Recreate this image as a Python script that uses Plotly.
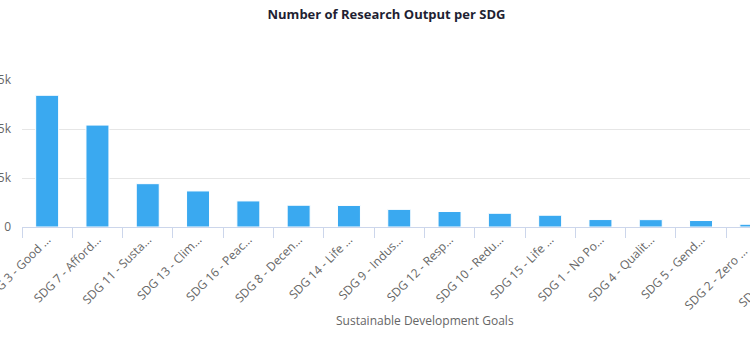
import plotly.graph_objects as go

# ---- data ----
categories = [
    "SDG 3 - Good …", "SDG 7 - Afford…", "SDG 11 - Susta…", "SDG 13 - Clim…",
    "SDG 16 - Peac…", "SDG 8 - Decen…", "SDG 14 - Life …", "SDG 9 - Indus…",
    "SDG 12 - Resp…", "SDG 10 - Redu…", "SDG 15 - Life …", "SDG 1 - No Po…",
    "SDG 4 - Qualit…", "SDG 5 - Gend…", "SDG 2 - Zero …", "SDG 6 - Clea…",
]
values = [6720, 5200, 2210, 1840, 1330, 1110, 1100, 900, 790, 700, 600, 380, 375, 330, 140, 100]
y_tickvals = [0, 2500, 5000, 7500]
y_ticktext = ["0", "2.5k", "5k", "7.5k"]

title_text = "Number of Research Output per SDG"
x_title = "Sustainable Development Goals"

FONT = "Open Sans"
W, H = 750, 358
ML, MR, MT, MB = 22, 0, 80, 131
cat_px = 50.3
plot_w = W - ML - MR
plot_h = H - MT - MB
x_range = [-0.5, -0.5 + plot_w / cat_px]
span = x_range[1] - x_range[0]

fig = go.Figure()
fig.add_trace(go.Bar(
    x=categories,
    y=values,
    marker=dict(color="#3aa9f0", line=dict(color="#ffffff", width=1)),
    hoverinfo="x+y",
))

# tick labels of categories whose tick lies beyond the visible right edge
for i, cat in enumerate(categories):
    if i > x_range[1]:
        fig.add_annotation(
            text=cat,
            xref="paper", yref="paper",
            x=(i - x_range[0]) / span + 2 / plot_w, y=-14 / plot_h,
            xanchor="right", yanchor="top",
            showarrow=False, textangle=-45,
            font=dict(family=FONT, size=12, color="#666666"),
        )

fig.add_annotation(
    text=x_title,
    xref="paper", yref="paper",
    x=(424.7 - ML) / plot_w, y=(H - MB - 320) / plot_h,
    showarrow=False, xanchor="center", yanchor="middle",
    font=dict(family=FONT, size=12, color="#666666"),
)

fig.update_layout(
    width=W, height=H,
    margin=dict(l=ML, r=MR, t=MT, b=MB, pad=0),
    paper_bgcolor="#ffffff", plot_bgcolor="#ffffff",
    showlegend=False,
    bargap=0.543,
    font=dict(family=FONT, size=12, color="#666666"),
    title=dict(
        text="<b>" + title_text + "</b>",
        xref="container", yref="container",
        x=386.5 / W, y=1 - 14 / H, xanchor="center", yanchor="middle",
        font=dict(family=FONT, size=13, color="#1f1f33"),
    ),
    xaxis=dict(
        type="category",
        range=x_range,
        automargin=False,
        showgrid=False,
        showline=True, linecolor="#ccd6eb", linewidth=1,
        ticks="outside", ticklen=10, tickcolor="#ccd6eb", tickwidth=1,
        tickson="boundaries",
        tickangle=-45,
        tickfont=dict(family=FONT, size=12, color="#666666"),
        zeroline=False,
    ),
    yaxis=dict(
        range=[0, 7500],
        automargin=False,
        tickvals=y_tickvals, ticktext=y_ticktext,
        showgrid=True, gridcolor="#e6e6e6", gridwidth=1,
        zeroline=False, showline=False,
        ticklabelstandoff=10,
        tickfont=dict(family=FONT, size=12, color="#666666"),
    ),
)

fig.write_html(
    "out.html",
    config={"displayModeBar": False},
    post_script="document.body.style.margin='0px';",
)
